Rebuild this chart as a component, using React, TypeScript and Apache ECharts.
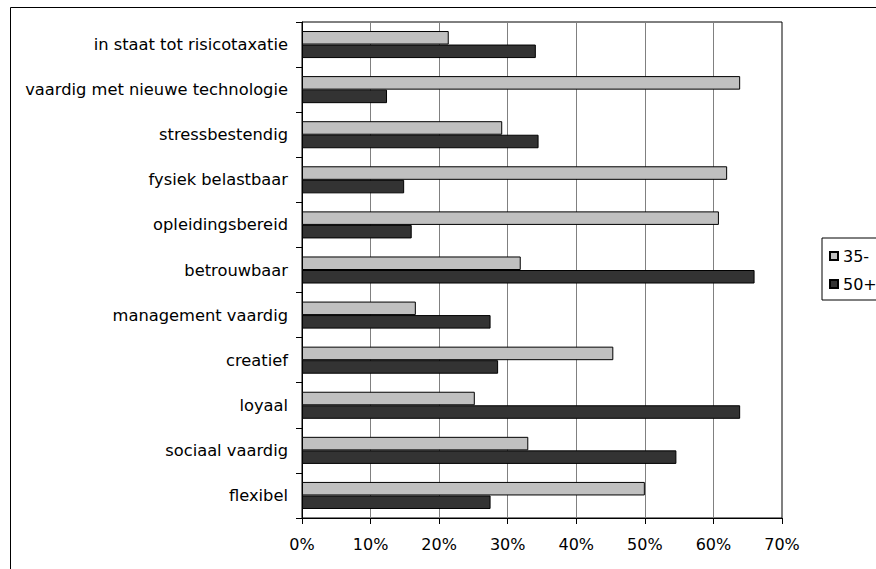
import React, { useEffect, useRef } from "react";
import * as echarts from "echarts";

const categories = [
  "flexibel",
  "sociaal vaardig",
  "loyaal",
  "creatief",
  "management vaardig",
  "betrouwbaar",
  "opleidingsbereid",
  "fysiek belastbaar",
  "stressbestendig",
  "vaardig met nieuwe technologie",
  "in staat tot risicotaxatie",
];
const young = [50.0, 33.0, 25.2, 45.4, 16.6, 31.9, 60.8, 62.0, 29.2, 63.9, 21.4];
const old = [27.5, 54.6, 63.9, 28.6, 27.5, 66.0, 16.0, 14.9, 34.5, 12.4, 34.1];
const seriesNames = ["35-", "50+"];
const xTicks = { min: 0, max: 70, interval: 10 };

const FONT = "DejaVu Sans";

export default function App() {
  const ref = useRef<HTMLDivElement>(null);
  useEffect(() => {
    if (!ref.current) return;
    const chart = echarts.init(ref.current, null, { renderer: "svg" });
    chart.setOption({
      animation: false,
      backgroundColor: "#ffffff",
      textStyle: { fontFamily: FONT, color: "#000" },
      grid: {
        left: 302,
        top: 22,
        width: 480,
        height: 496,
        show: true,
        borderColor: "#000",
        borderWidth: 1,
        containLabel: false,
      },
      legend: {
        data: seriesNames,
        orient: "vertical",
        left: 822,
        top: 238,
        itemWidth: 8,
        itemHeight: 8,
        itemGap: 12,
        padding: [10, 10, 8, 7],
        borderColor: "#000",
        borderWidth: 1,
        icon: "rect",
        textStyle: { fontFamily: FONT, fontSize: 16, color: "#000" },
      },
      xAxis: {
        type: "value",
        min: xTicks.min,
        max: xTicks.max,
        interval: xTicks.interval,
        axisLine: { show: true, lineStyle: { color: "#000", width: 1 } },
        axisTick: { show: true, length: 6, lineStyle: { color: "#000" } },
        axisLabel: {
          formatter: "{value}%",
          fontFamily: FONT,
          fontSize: 16,
          color: "#000",
          margin: 18,
        },
        splitLine: { show: true, lineStyle: { color: "#808080", width: 1 } },
      },
      yAxis: {
        type: "category",
        data: categories,
        axisLine: { show: true, lineStyle: { color: "#000", width: 1 } },
        axisTick: { show: true, length: 6, lineStyle: { color: "#000" } },
        axisLabel: {
          fontFamily: FONT,
          fontSize: 16.3,
          color: "#000",
          margin: 14,
        },
        splitLine: { show: false },
      },
      series: [
        {
          name: "35-",
          type: "bar",
          data: young,
          barGap: "0%",
          barCategoryGap: "40%",
          itemStyle: { color: "#C0C0C0", borderColor: "#000", borderWidth: 1 },
        },
        {
          name: "50+",
          type: "bar",
          data: old,
          barGap: "0%",
          barCategoryGap: "40%",
          itemStyle: { color: "#333333", borderColor: "#000", borderWidth: 1 },
        },
      ],
      graphic: [
        {
          type: "rect",
          shape: { x: 10.5, y: 7.5, width: 1000, height: 1000 },
          style: { fill: "none", stroke: "#000", lineWidth: 1 },
          silent: true,
          z: 100,
        },
      ],
    });
    return () => chart.dispose();
  }, []);
  return (
    <div
      ref={ref}
      style={{ position: "absolute", left: 0, top: 0, width: 876, height: 569 }}
    />
  );
}
